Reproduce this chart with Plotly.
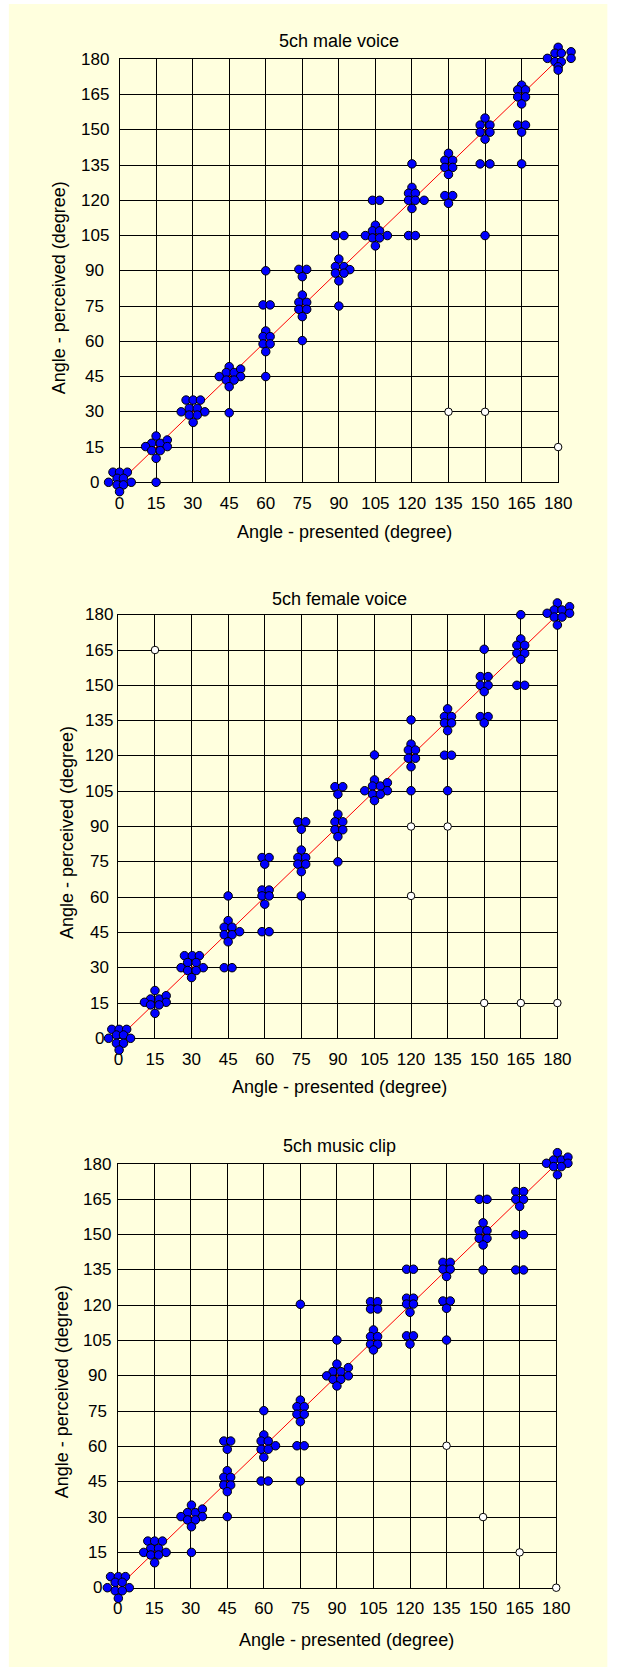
import plotly.graph_objects as go

W, H = 632, 1668

angle_ticks = list(range(0, 181, 15))
panel_titles = ["5ch male voice", "5ch female voice", "5ch music clip"]
x_title = "Angle - presented (degree)"
y_title = "Angle - perceived (degree)"

# Responses (presented, perceived), spread slightly around each answer so stacked
# answers stay visible.
male_pts = [
    (-2.7, 4.3), (0, 4.3), (3.2, 4.3), (-1, 1.7), (1.6, 1.7), (-4.5, 0), (4.8, 0), (-1, -1.1), (1.6, -1.1), (0, -4),
    (15, 19.7), (13.2, 16.6), (16.7, 16.6), (10.7, 15.2), (19.6, 18), (19.6, 15.2), (13.2, 13.5), (16.7, 13.5), (15, 10.2), (15, 0),
    (27.3, 35), (30.2, 35), (33.2, 35), (28.6, 31.5), (31.9, 31.5), (25.3, 30), (35, 30), (28.6, 28.6), (31.9, 28.6), (30.2, 25.5),
    (45, 49.2), (43.8, 46.7), (47, 46.7), (40.9, 45), (49.7, 48.2), (49.7, 45), (43.8, 43.5), (47, 43.5), (45, 40.7), (45, 29.6),
    (60, 90), (58.9, 75.5), (61.8, 75.5), (60, 64.4), (58.9, 62), (61.8, 62), (58.9, 58.9), (61.8, 58.9), (60, 55.6), (60, 45),
    (73.6, 90.6), (76.8, 90.6), (75, 87.5), (75, 79.7), (73.6, 76.6), (76.8, 76.6), (73.6, 73.6), (76.8, 73.6), (75, 70.5), (75, 60.3),
    (88.6, 105), (92.1, 105), (90, 95), (88.6, 91.8), (92.1, 91.8), (94.5, 90.5), (88.6, 89), (92.1, 89), (90, 85.7), (90, 75),
    (103.8, 120), (106.7, 120), (105, 109.4), (103.8, 107), (106.7, 107), (100.9, 105), (109.9, 105), (103.8, 104), (106.7, 104), (105, 100.6),
    (120, 135.5), (120, 125.5), (118.6, 123), (121.4, 123), (118.6, 120), (121.4, 120), (125, 120), (120, 116.5), (118.6, 105), (121.4, 105),
    (135, 140), (133.5, 137), (136.7, 137), (133.5, 134), (136.7, 134), (135, 131), (133.5, 122), (136.7, 122), (135, 118.7),
    (150, 155), (148, 152), (152, 152), (148, 149), (152, 149), (150, 146), (148, 135.5), (152, 135.5), (150, 105),
    (165, 169), (163.4, 167), (166.6, 167), (163.4, 164), (166.6, 164), (165, 161), (163.4, 152), (166.6, 152), (165, 149), (165, 135.5),
    (180, 185.1), (178.7, 182.6), (181.3, 182.6), (185.3, 183.2), (175.6, 180.4), (185.3, 180.4), (178.7, 179), (181.3, 179), (180, 176.8), (180, 175.4),
]
male_reversals = [(135, 30), (150, 30), (180, 15)]

female_pts = [
    (-2.7, 3.8), (0.3, 3.8), (3.4, 3.8), (-0.8, 1.4), (2.1, 1.4), (-4, 0), (5, 0), (-0.8, -2.1), (2.1, -2.1), (0.3, -5),
    (15, 20.3), (13.2, 16.7), (16.7, 16.7), (10.7, 15.3), (19.6, 18.1), (19.6, 15.3), (13.2, 14.2), (16.7, 14.2), (15, 10.6),
    (27.1, 35.1), (30.3, 35.1), (33.2, 35.1), (28.4, 32.2), (31.9, 32.2), (25.7, 30), (34.8, 30), (28.4, 28.8), (31.9, 28.8), (30, 25.8),
    (45, 60.5), (45, 50), (43.4, 47.2), (46.6, 47.2), (49.7, 45.3), (43.4, 44), (46.6, 44), (45, 41), (43.4, 30), (46.6, 30),
    (58.9, 76.8), (61.8, 76.8), (60, 74), (58.9, 63), (61.8, 63), (58.9, 60.5), (61.8, 60.5), (60, 57), (58.9, 45.3), (61.8, 45.3),
    (73.6, 92), (76.8, 92), (75, 88.8), (75, 80), (73.6, 76.8), (76.8, 76.8), (73.6, 74), (76.8, 74), (75, 70.8), (75, 60.5),
    (88.8, 106.9), (92, 106.9), (90, 103.7), (90, 95.2), (88.8, 92), (92, 92), (88.8, 88.6), (92, 88.6), (90, 85.7), (90, 75),
    (105, 120.4), (105, 109.8), (104.2, 107.2), (107.4, 107.2), (101, 105.2), (110.3, 108.6), (110.3, 105.2), (104.2, 103.7), (107.4, 103.7), (105, 101),
    (120, 135.3), (120, 125), (118.9, 122.5), (121.8, 122.5), (118.9, 119), (121.8, 119), (120, 115.4), (120, 105.2),
    (135, 140), (133.7, 136.7), (136.6, 136.7), (133.7, 134), (136.6, 134), (135, 130.7), (133.7, 120.3), (136.6, 120.3), (135, 105.2),
    (150, 165.3), (148.4, 153.7), (151.6, 153.7), (148.4, 150), (151.6, 150), (150, 147.3), (148.4, 136.7), (151.6, 136.7), (150, 134),
    (165, 180), (165, 169.7), (163.4, 167), (166.6, 167), (163.4, 163.6), (166.6, 163.6), (165, 161), (163.4, 150), (166.6, 150),
    (180, 185), (178.7, 182), (181.9, 182), (185, 183.4), (175.8, 180.6), (185, 180.6), (178.7, 179), (181.9, 179), (180, 175.6),
]
female_reversals = [(15, 165), (120, 90), (135, 90), (120, 60.5), (150, 15), (165, 15), (180, 15)]

music_pts = [
    (-2.9, 4.7), (0.3, 4.7), (3.2, 4.7), (-1, 2.3), (1.9, 2.3), (-4.2, 0), (4.8, 0), (-1, -1.3), (1.9, -1.3), (0.3, -4.5),
    (12.4, 19.8), (15.2, 19.8), (18.4, 19.8), (13.6, 16.7), (16.8, 16.7), (10.7, 15), (19.9, 15), (13.6, 13.9), (16.8, 13.9), (15.2, 10.6),
    (30.3, 35.1), (28.7, 31.9), (31.9, 31.9), (26, 30.2), (34.8, 33.4), (34.8, 30.2), (28.7, 28.8), (31.9, 28.8), (30.3, 25.9), (30.3, 15),
    (43.6, 62.3), (46.4, 62.3), (45, 58.8), (45, 49.7), (43.6, 46.9), (46.4, 46.9), (43.6, 43.6), (46.4, 43.6), (45, 40.8), (45, 30.2),
    (60, 75.2), (60, 64.9), (58.9, 62.3), (61.8, 62.3), (64.8, 60.3), (58.9, 58.8), (61.8, 58.8), (60, 55.4), (58.9, 45.3), (61.8, 45.3),
    (75, 120.4), (75, 79.7), (73.6, 76.9), (76.6, 76.9), (73.6, 73.7), (76.6, 73.7), (75, 70.5), (73.6, 60.3), (76.6, 60.3), (75, 45.3),
    (90, 105.2), (90, 95), (88.4, 91.8), (91.6, 91.8), (85.8, 90), (94.7, 93.5), (94.7, 90), (88.4, 88.5), (91.6, 88.5), (90, 85.7),
    (103.8, 121.5), (106.7, 121.5), (103.8, 118.4), (106.7, 118.4), (105, 109.5), (103.8, 106.7), (106.7, 106.7), (103.8, 103.4), (106.7, 103.4), (105, 101),
    (118.6, 135.3), (121.4, 135.3), (118.6, 123), (121.4, 123), (118.6, 120.5), (121.4, 120.5), (120, 117), (118.6, 107), (121.4, 107), (120, 103.5),
    (133.5, 138.2), (136.5, 138.2), (133.5, 135.3), (136.5, 135.3), (135, 132.2), (133.5, 121.8), (136.5, 121.8), (135, 118.7), (135, 105.2),
    (148.4, 165), (151.6, 165), (150, 155), (148.4, 151.7), (151.6, 151.7), (148.4, 148.4), (151.6, 148.4), (150, 145.6), (150, 135),
    (163.4, 168.3), (166.6, 168.3), (163.4, 165), (166.6, 165), (165, 162), (163.4, 150), (166.6, 150), (163.4, 135), (166.6, 135),
    (180.5, 184.8), (178.9, 181.7), (182.1, 181.7), (184.8, 182.9), (176, 180.3), (184.8, 180.3), (178.9, 178.9), (182.1, 178.9), (180.5, 175.4),
]
music_reversals = [(135, 60.3), (150, 30), (165, 15), (180, 0)]

series = [
    (male_pts, male_reversals),
    (female_pts, female_reversals),
    (music_pts, music_reversals),
]

# Pixel layout of the three stacked panels (figure has zero margins).
# ylab = horizontal centre of the (centred) y tick labels.
panels = [
    dict(l=118.1, r=570.3, t=59.3, b=482.3, title=(344.5, 40.7), xt=(349.7, 532.0), yt=(56.0, 288.0), ylab=92.5),
    dict(l=116.9, r=569.5, t=614.7, b=1038.3, title=(344.6, 598.7), xt=(345.0, 1086.7), yt=(64.0, 833.0), ylab=97.0),
    dict(l=116.1, r=568.3, t=1164.0, b=1587.7, title=(345.0, 1145.7), xt=(351.7, 1640.0), yt=(59.0, 1392.0), ylab=95.0),
]
PAD = 12  # extra degrees on the hidden marker axes so edge clusters are not cut

FONT = "Arial, 'Liberation Sans', sans-serif"
BG = "#FFFFDE"
INK = "#000000"


def px(x):
    return x / W


def py(y):
    return 1 - y / H


fig = go.Figure()
layout = dict(
    width=W, height=H,
    margin=dict(l=0, r=0, t=0, b=0),
    paper_bgcolor="white",
    plot_bgcolor="rgba(0,0,0,0)",
    showlegend=False,
    font=dict(family=FONT, size=18, color=INK),
    shapes=[dict(type="rect", xref="paper", yref="paper", x0=px(4), x1=px(621), y0=py(1667), y1=py(4),
                 fillcolor=BG, line=dict(width=0), layer="below")],
    annotations=[],
)

lo, hi = angle_ticks[0], angle_ticks[-1]
for i, ((pts, rev), p) in enumerate(zip(series, panels)):
    n = "" if i == 0 else str(i + 1)
    xa, ya = "x" + n, "y" + n
    m = str(i + 4)
    mxa, mya = "x" + m, "y" + m

    # identity (perfect localisation) line
    fig.add_trace(go.Scatter(x=[lo, hi], y=[lo, hi],
                             mode="lines", line=dict(color="#FF0000", width=1),
                             xaxis=xa, yaxis=ya, hoverinfo="skip"))
    fig.add_trace(go.Scatter(x=[a for a, _ in pts], y=[b for _, b in pts], mode="markers",
                             marker=dict(size=8.5, color="#0000FF", line=dict(color=INK, width=1)),
                             cliponaxis=False, xaxis=mxa, yaxis=mya))
    fig.add_trace(go.Scatter(x=[a for a, _ in rev], y=[b for _, b in rev], mode="markers",
                             marker=dict(size=7.5, color="white", line=dict(color=INK, width=1)),
                             cliponaxis=False, xaxis=mxa, yaxis=mya))

    axis_common = dict(range=[lo, hi], tickvals=angle_ticks,
                       showgrid=True, gridcolor=INK, gridwidth=1.3, zeroline=False,
                       showline=True, mirror=True, linecolor=INK, linewidth=1.3,
                       ticks="", fixedrange=True)
    layout["xaxis" + n] = dict(axis_common, domain=[px(p["l"]), px(p["r"])], anchor=ya,
                               ticktext=[str(t) for t in angle_ticks],
                               tickfont=dict(family=FONT, size=17, color=INK), ticklabelstandoff=5)
    layout["yaxis" + n] = dict(axis_common, domain=[py(p["b"]), py(p["t"])], anchor=xa,
                               showticklabels=False)

    # y tick labels, centred in their column
    for t in angle_ticks:
        layout["annotations"].append(dict(text=str(t), x=px(p["ylab"]), y=t, xref="paper", yref=ya,
                                          showarrow=False, xanchor="center", yanchor="middle",
                                          font=dict(family=FONT, size=17, color=INK)))

    # hidden axes for the response markers, aligned with the visible grid
    kx = (p["r"] - p["l"]) / (hi - lo)
    ky = (p["b"] - p["t"]) / (hi - lo)
    layout["xaxis" + m] = dict(visible=False, range=[lo - PAD, hi + PAD], fixedrange=True, anchor=mya,
                               domain=[px(p["l"] - PAD * kx), px(p["r"] + PAD * kx)])
    layout["yaxis" + m] = dict(visible=False, range=[lo - PAD, hi + PAD], fixedrange=True, anchor=mxa,
                               domain=[py(p["b"] + PAD * ky), py(p["t"] - PAD * ky)])

    tx, ty = p["title"]
    layout["annotations"].append(dict(text=panel_titles[i], x=px(tx), y=py(ty), xref="paper", yref="paper",
                                      showarrow=False, xanchor="center", yanchor="middle",
                                      font=dict(family=FONT, size=18, color=INK)))
    ax_, ay_ = p["xt"]
    layout["annotations"].append(dict(text=x_title, x=px(ax_), y=py(ay_), xref="paper", yref="paper",
                                      showarrow=False, xanchor="center", yanchor="middle",
                                      font=dict(family=FONT, size=18, color=INK)))
    bx, by = p["yt"]
    layout["annotations"].append(dict(text=y_title, x=px(bx), y=py(by), xref="paper", yref="paper",
                                      showarrow=False, xanchor="center", yanchor="middle", textangle=-90,
                                      font=dict(family=FONT, size=18, color=INK)))

fig.update_layout(**layout)
fig.write_html("out.html")
